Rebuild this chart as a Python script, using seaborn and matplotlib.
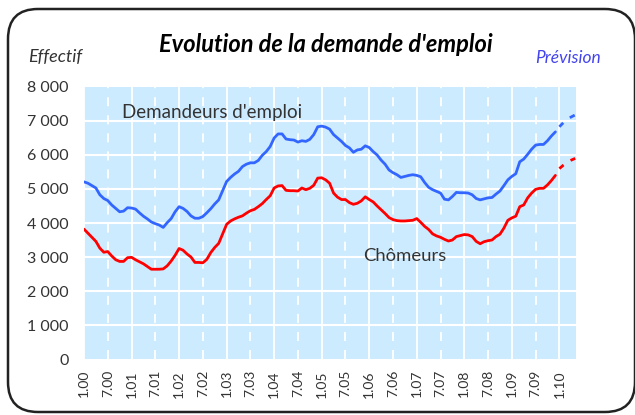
import numpy as np
import pandas as pd
import matplotlib
matplotlib.use("Agg")
import matplotlib.pyplot as plt
from matplotlib.patches import FancyBboxPatch
import seaborn as sns

# mois depuis janvier 2000 (0 = 1.00)
demandeurs = [5210, 5170, 5100, 5030, 4830, 4720, 4660, 4530, 4430, 4330, 4350, 4450,
              4440, 4410, 4300, 4200, 4120, 4030, 3980, 3940, 3870, 4010, 4130, 4330,
              4480, 4430, 4340, 4210, 4140, 4140, 4190, 4300, 4420, 4560, 4680, 4950,
              5220, 5340, 5440, 5520, 5660, 5730, 5770, 5770, 5840, 5990, 6100, 6250,
              6500, 6620, 6620, 6470, 6450, 6440, 6380, 6420, 6400, 6460, 6600, 6830,
              6850, 6820, 6760, 6600, 6500, 6400, 6280, 6210, 6080, 6150, 6170, 6270,
              6220, 6100, 6000, 5850, 5730, 5560, 5480, 5420, 5340, 5370, 5400, 5420,
              5400, 5360, 5190, 5050, 4980, 4930, 4880, 4700, 4680, 4780, 4900, 4890,
              4890, 4880, 4830, 4720, 4680, 4710, 4740, 4750, 4850, 4940, 5100, 5270,
              5370, 5450, 5800, 5880, 6020, 6170, 6290, 6310, 6310, 6420, 6560, 6680]
chomeurs = [3820, 3700, 3580, 3460, 3260, 3140, 3160, 3030, 2920, 2870, 2870, 2980,
            2990, 2920, 2860, 2800, 2720, 2640, 2640, 2640, 2650, 2740, 2880, 3050,
            3250, 3200, 3090, 3000, 2840, 2840, 2830, 2930, 3130, 3280, 3400, 3680,
            3960, 4060, 4120, 4170, 4210, 4290, 4360, 4400, 4480, 4570, 4690, 4800,
            5030, 5090, 5100, 4960, 4950, 4950, 4940, 5030, 4980, 5020, 5110, 5320,
            5330, 5270, 5170, 4880, 4760, 4690, 4690, 4600, 4550, 4580, 4650, 4770,
            4690, 4620, 4500, 4390, 4280, 4160, 4100, 4070, 4060, 4060, 4070, 4080,
            4130, 4020, 3900, 3810, 3680, 3620, 3580, 3520, 3470, 3500, 3600, 3630,
            3660, 3650, 3600, 3460, 3390, 3450, 3480, 3500, 3600, 3670, 3850, 4080,
            4150, 4200, 4480, 4530, 4740, 4880, 4990, 5020, 5020, 5120, 5250, 5400]
# prévision 2010 (mois 120 à 124)
prev_demandeurs = [6830, 6950, 7050, 7120, 7180]
prev_chomeurs = [5600, 5700, 5790, 5850, 5900]

tick_labels = ["1.00", "7.00", "1.01", "7.01", "1.02", "7.02", "1.03", "7.03", "1.04", "7.04",
               "1.05", "7.05", "1.06", "7.06", "1.07", "7.07", "1.08", "7.08", "1.09", "7.09", "1.10"]
y_labels = ["0", "1 000", "2 000", "3 000", "4 000", "5 000", "6 000", "7 000", "8 000"]

BLUE = "#3366FF"
RED = "#FF0000"
BG = "#CCEBFF"
TXT = "#333333"

sns.set_style("white")
plt.rcParams["font.family"] = ["Lato", "DejaVu Sans"]

df = pd.DataFrame({"mois": np.arange(len(demandeurs)),
                   "demandeurs": demandeurs, "chomeurs": chomeurs})
df_prev = pd.DataFrame({"mois": np.arange(len(demandeurs), len(demandeurs) + len(prev_demandeurs)),
                        "demandeurs": prev_demandeurs, "chomeurs": prev_chomeurs})

fig = plt.figure(figsize=(6.35, 4.15), dpi=100)
ax = fig.add_axes([84 / 635, 1 - 359 / 415, (576 - 84) / 635, (359 - 87) / 415])
ax.set_facecolor(BG)

# grille
for m in range(0, 126, 6):
    if m % 12 == 0:
        ax.axvline(m, color="white", lw=1.3, zorder=1)
    else:
        ax.axvline(m, color="white", lw=1.3, ls=(0, (5, 5)), zorder=1)
for v in range(1000, 8000, 1000):
    ax.axhline(v, color="white", lw=1.5, zorder=1)

sns.lineplot(data=df, x="mois", y="demandeurs", color=BLUE, lw=2, ax=ax, zorder=3)
sns.lineplot(data=df, x="mois", y="chomeurs", color=RED, lw=2, ax=ax, zorder=3)
sns.lineplot(data=df_prev, x="mois", y="demandeurs", color=BLUE, lw=2, ls=(0, (2, 3)), ax=ax, zorder=3)
sns.lineplot(data=df_prev, x="mois", y="chomeurs", color=RED, lw=2, ls=(0, (2, 3)), ax=ax, zorder=3)

ax.set_xlim(0, 124.2)
ax.set_ylim(0, 8000)
ax.set_xticks(range(0, 126, 6))
ax.set_xticklabels(tick_labels, rotation=90, fontsize=10, color=TXT)
ax.set_yticks(range(0, 9000, 1000))
ax.set_yticklabels(y_labels, fontsize=11.5, color=TXT)
ax.tick_params(axis="both", length=0)
ax.tick_params(axis="y", pad=11)
ax.tick_params(axis="x", pad=8)
ax.set_xlabel("")
ax.set_ylabel("")
for s in ax.spines.values():
    s.set_visible(False)
ax.grid(False)

ax.text(9.6, 7000 + 240, "Demandeurs d'emploi", fontsize=13.5, color=TXT, va="center")
ax.text(70.5, 3000 + 30, "Chômeurs", fontsize=13.3, color=TXT, va="center")

fig.text(326 / 635, 1 - 45 / 415, "Evolution de la demande d'emploi", fontsize=17,
         fontweight="bold", style="italic", ha="center", va="center", color="black")
fig.text(28 / 635, 1 - 57 / 415, "Effectif", fontsize=13, style="italic", color=TXT,
         ha="left", va="center")
fig.text(601 / 635, 1 - 58 / 415, "Prévision", fontsize=12.5, style="italic", color="#4444EE",
         ha="right", va="center")

frame = FancyBboxPatch((0.08, 0.03), 6.27, 4.03, boxstyle="round,pad=0,rounding_size=0.3",
                       transform=fig.dpi_scale_trans, fill=False, edgecolor="#222222", lw=1.8)
fig.add_artist(frame)

fig.savefig("out.png", dpi=100)
plt.close()
